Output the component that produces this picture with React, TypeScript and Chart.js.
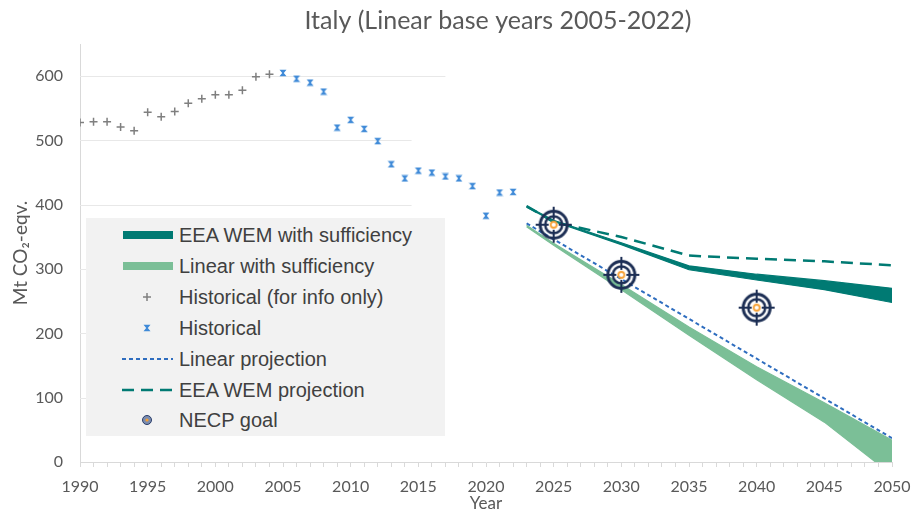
import React, { useEffect, useRef } from 'react';
import { Chart, registerables } from 'chart.js';

Chart.register(...registerables);

// ---------- data ----------
const histInfoYears = [1990, 1991, 1992, 1993, 1994, 1995, 1996, 1997, 1998, 1999, 2000, 2001, 2002, 2003, 2004];
const histInfoValues = [528, 529, 529, 521, 515, 544, 537, 545, 558, 565, 571, 571, 578, 599, 603];

const histYears = [2005, 2006, 2007, 2008, 2009, 2010, 2011, 2012, 2013, 2014, 2015, 2016, 2017, 2018, 2019, 2020, 2021, 2022];
const histValues = [605, 596, 590, 576, 520, 532, 518, 499, 463, 441, 453, 450, 444, 441, 429, 383, 419, 420];

const projYears = [2023, 2025, 2030, 2035, 2040, 2045, 2050];
const wemSuffUpper = [398, 376, 341, 305, 292, 282, 270];
const wemSuffLower = [396, 374, 338, 299, 283, 268, 248];
const wemProjection = [398, 373, 350, 321, 316, 312, 306];
const linSuffUpper = [368, 340, 276, 210, 148, 92, 34];
const linSuffLower = [366, 337, 268, 197, 128, 62, -20];

const linearYears = [2023, 2050];
const linearProjection = [371, 37];

const necpYears = [2025, 2030, 2040];
const necpGoals = [369, 291, 240];

const legendLabels = [
  'EEA WEM with sufficiency',
  'Linear with sufficiency',
  'Historical (for info only)',
  'Historical',
  'Linear projection',
  'EEA WEM projection',
  'NECP goal',
];

const TITLE = 'Italy (Linear base years 2005-2022)';
const X_TITLE = 'Year';
const Y_TITLE = 'Mt CO\u2082-eqv.';

// ---------- styles ----------
const TEAL = '#007a73';
const GREEN = '#7bbf97';
const BLUE_DOT = '#2e6dbf';
const HIST_BLUE = '#3f8ad8';
const GRAY = '#7f7f7f';
const NAVY = '#1c2e54';
const ORANGE = '#f7a033';
const AXIS_GRAY = '#d9d9d9';
const TEXT_GRAY = '#595959';

const pts = (xs: number[], ys: number[]) => xs.map((x, i) => ({ x, y: ys[i] }));

function makeTarget(): HTMLCanvasElement {
  const c = document.createElement('canvas');
  c.width = 40;
  c.height = 40;
  const g = c.getContext('2d')!;
  const cx = 20, cy = 20;
  g.strokeStyle = NAVY;
  g.lineWidth = 3;
  g.beginPath(); g.arc(cx, cy, 13.5, 0, Math.PI * 2); g.stroke();
  g.lineWidth = 2.5;
  g.beginPath(); g.arc(cx, cy, 8.5, 0, Math.PI * 2); g.stroke();
  g.lineWidth = 2;
  g.beginPath();
  g.moveTo(cx, cy - 18); g.lineTo(cx, cy - 5);
  g.moveTo(cx, cy + 5); g.lineTo(cx, cy + 18);
  g.moveTo(cx - 18, cy); g.lineTo(cx - 5, cy);
  g.moveTo(cx + 5, cy); g.lineTo(cx + 18, cy);
  g.stroke();
  g.fillStyle = '#ffffff';
  g.strokeStyle = ORANGE;
  g.lineWidth = 1.8;
  g.beginPath(); g.arc(cx, cy, 3, 0, Math.PI * 2); g.fill(); g.stroke();
  return c;
}

function makeHourglass(): HTMLCanvasElement {
  const c = document.createElement('canvas');
  c.width = 8;
  c.height = 8;
  const g = c.getContext('2d')!;
  g.fillStyle = HIST_BLUE;
  g.beginPath();
  g.moveTo(0.5, 0.8); g.lineTo(7.5, 0.8); g.lineTo(4.8, 4); g.lineTo(7.5, 7.2);
  g.lineTo(0.5, 7.2); g.lineTo(3.2, 4); g.closePath();
  g.fill();
  return c;
}

const partialGrid = {
  id: 'partialGrid',
  beforeDatasetsDraw(chart: any) {
    const { ctx, chartArea, scales } = chart;
    const xs = scales.x, ys = scales.y;
    ctx.save();
    ctx.strokeStyle = '#e8e8e8';
    ctx.lineWidth = 1;
    ys.ticks.forEach((t: any) => {
      if (t.value <= 0) return;
      const end = t.value >= 600 ? 2017 : 2014.5;
      const y = Math.round(ys.getPixelForValue(t.value)) + 0.5;
      ctx.beginPath();
      ctx.moveTo(chartArea.left, y);
      ctx.lineTo(xs.getPixelForValue(end), y);
      ctx.stroke();
    });
    ctx.restore();
  },
};

const titlePlugin = {
  id: 'titlePlugin',
  afterDraw(chart: any) {
    const { ctx, chartArea } = chart;
    ctx.save();
    ctx.font = '25px Lato';
    ctx.fillStyle = TEXT_GRAY;
    ctx.textAlign = 'center';
    ctx.textBaseline = 'middle';
    ctx.fillText(TITLE, (chartArea.left + chartArea.right) / 2 + 12, 21);
    ctx.restore();
  },
};

function LegendIcon({ kind }: { kind: number }) {
  const w = 52, h = 30;
  let content: any = null;
  switch (kind) {
    case 0:
      content = <rect x={1} y={11} width={50} height={8} fill={TEAL} />;
      break;
    case 1:
      content = <rect x={1} y={11} width={50} height={8} fill={GREEN} />;
      break;
    case 2:
      content = (
        <g stroke={GRAY} strokeWidth={1.5}>
          <line x1={21} y1={15} x2={29} y2={15} />
          <line x1={25} y1={11} x2={25} y2={19} />
        </g>
      );
      break;
    case 3:
      content = <polygon points="21.5,11.8 28.5,11.8 25.8,15 28.5,18.2 21.5,18.2 24.2,15" fill={HIST_BLUE} />;
      break;
    case 4:
      content = <line x1={0} y1={15} x2={51} y2={15} stroke={BLUE_DOT} strokeWidth={2} strokeDasharray="4 3" />;
      break;
    case 5:
      content = <line x1={0} y1={15} x2={51} y2={15} stroke={TEAL} strokeWidth={2.5} strokeDasharray="12 7" />;
      break;
    default:
      content = (
        <g>
          <circle cx={25} cy={15} r={4.5} fill="#7b8db0" stroke="#2a3d6a" strokeWidth={1} />
          <circle cx={25} cy={15} r={1.6} fill={ORANGE} />
        </g>
      );
  }
  return (
    <svg width={w} height={h} style={{ position: 'absolute', left: 36, top: 0 }}>
      {content}
    </svg>
  );
}

export default function App() {
  const ref = useRef<HTMLCanvasElement | null>(null);

  useEffect(() => {
    if (!ref.current) return;
    const target = makeTarget();
    const hourglass = makeHourglass();
    const chart = new Chart(ref.current, {
      type: 'line',
      data: {
        datasets: [
          {
            label: 'EEA WEM with sufficiency (upper)',
            data: pts(projYears, wemSuffUpper),
            borderColor: TEAL, backgroundColor: TEAL, borderWidth: 1.2,
            pointRadius: 0, fill: 1, order: 8,
          },
          {
            label: 'EEA WEM with sufficiency (lower)',
            data: pts(projYears, wemSuffLower),
            borderColor: TEAL, backgroundColor: TEAL, borderWidth: 1.2,
            pointRadius: 0, fill: false, order: 8,
          },
          {
            label: 'Linear with sufficiency (upper)',
            data: pts(projYears, linSuffUpper),
            borderColor: GREEN, backgroundColor: GREEN, borderWidth: 1.2,
            pointRadius: 0, fill: 3, order: 9,
          },
          {
            label: 'Linear with sufficiency (lower)',
            data: pts(projYears, linSuffLower),
            borderColor: GREEN, backgroundColor: GREEN, borderWidth: 1.2,
            pointRadius: 0, fill: false, order: 9,
          },
          {
            label: 'EEA WEM projection',
            data: pts(projYears, wemProjection),
            borderColor: TEAL, borderWidth: 2.5, borderDash: [12, 7],
            pointRadius: 0, fill: false, order: 5,
          },
          {
            label: 'Linear projection',
            data: pts(linearYears, linearProjection),
            borderColor: BLUE_DOT, borderWidth: 2, borderDash: [4, 3],
            pointRadius: 0, fill: false, order: 4,
          },
          {
            label: 'Historical (for info only)',
            data: pts(histInfoYears, histInfoValues),
            showLine: false, pointStyle: 'cross', pointRadius: 4,
            pointBorderColor: GRAY, pointBorderWidth: 1.5, borderColor: GRAY, order: 2,
          },
          {
            label: 'Historical',
            data: pts(histYears, histValues),
            showLine: false, pointStyle: hourglass as any, pointRadius: 4, order: 2,
          },
          {
            label: 'NECP goal',
            data: pts(necpYears, necpGoals),
            showLine: false, pointStyle: target as any, pointRadius: 14, order: 0,
          },
        ],
      },
      options: {
        responsive: false,
        animation: false,
        events: [],
        layout: { padding: { left: 0, right: 20, top: 44, bottom: 0 } },
        elements: { line: { tension: 0 } },
        plugins: {
          legend: { display: false },
          tooltip: { enabled: false },
          title: { display: false },
        },
        scales: {
          x: {
            type: 'linear',
            min: 1990,
            max: 2050,
            border: { display: true, color: AXIS_GRAY, width: 1 },
            grid: { display: true, drawOnChartArea: false, drawTicks: true, tickLength: 5, color: AXIS_GRAY },
            ticks: {
              stepSize: 1,
              autoSkip: false,
              maxRotation: 0,
              padding: 10,
              color: TEXT_GRAY,
              font: { family: 'Lato', size: 16 },
              callback: (v: any) => (Number(v) % 5 === 0 ? String(v) : ''),
            },
            title: {
              display: true,
              text: X_TITLE,
              color: TEXT_GRAY,
              font: { family: 'Lato', size: 17 },
              padding: { top: 0, bottom: 0 },
            },
            afterFit: (s: any) => {
              s.height = 52;
              s.paddingLeft = 0;
              s.paddingRight = 0;
            },
          },
          y: {
            type: 'linear',
            min: 0,
            max: 650,
            border: { display: true, color: AXIS_GRAY, width: 1 },
            grid: { display: false, drawTicks: false },
            ticks: {
              stepSize: 100,
              padding: 17,
              color: TEXT_GRAY,
              font: { family: 'Lato', size: 16 },
            },
            afterBuildTicks: (axis: any) => {
              axis.ticks = axis.ticks.filter((t: any) => t.value <= 600);
            },
            title: {
              display: true,
              text: Y_TITLE,
              color: TEXT_GRAY,
              font: { family: 'Lato', size: 19 },
              padding: { top: 9, bottom: 0 },
            },
            afterFit: (s: any) => {
              s.width = 80;
              s.paddingTop = 0;
              s.paddingBottom = 0;
            },
          },
        },
      } as any,
      plugins: [partialGrid, titlePlugin],
    });
    return () => chart.destroy();
  }, []);

  return (
    <div style={{ position: 'absolute', left: 0, top: 0, width: 912, height: 514, background: '#ffffff', overflow: 'hidden' }}>
      <canvas ref={ref} width={912} height={514} style={{ position: 'absolute', left: 0, top: 0 }} />
      <div style={{ position: 'absolute', left: 86, top: 218, width: 359, height: 218, background: '#f2f2f2' }}>
        {legendLabels.map((label, i) => (
          <div key={label} style={{ position: 'absolute', left: 0, top: 2 + i * 30.9, width: 359, height: 30 }}>
            <LegendIcon kind={i} />
            <span
              style={{
                position: 'absolute',
                left: 93,
                top: 0,
                lineHeight: '30px',
                fontFamily: '"Liberation Sans", Arial, sans-serif',
                fontSize: 20,
                color: '#404040',
                whiteSpace: 'nowrap',
              }}
            >
              {label}
            </span>
          </div>
        ))}
      </div>
    </div>
  );
}
